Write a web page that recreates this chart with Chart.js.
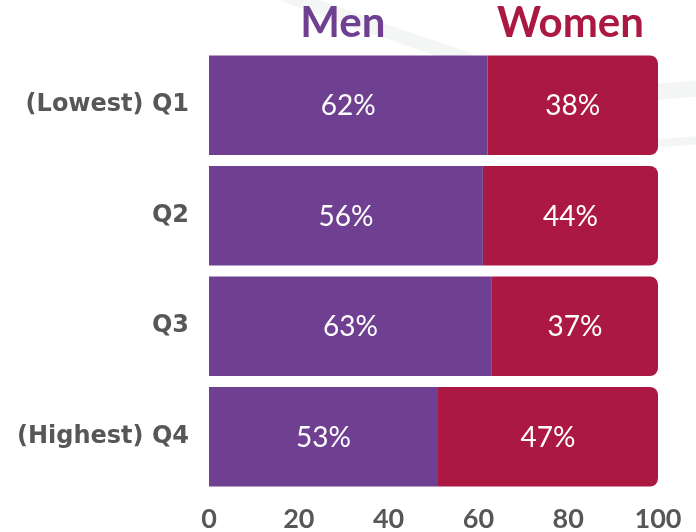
<!DOCTYPE html>
<html>
<head>
<meta charset="utf-8">
<script src="https://cdn.jsdelivr.net/npm/chart.js@4"></script>
<style>
    html, body { margin: 0; padding: 0; background: #ffffff; }
    #wrap { position: relative; width: 696px; height: 532px; }
</style>
</head>
<body>
<div id="wrap"><canvas id="genderChart"></canvas></div>
<script>
// Income quartiles
const categories = ['(Lowest) Q1', 'Q2', 'Q3', '(Highest) Q4'];
// Bar lengths as drawn in the picture
const menBars = [62, 61, 63, 51];
const womenBars = [38, 39, 37, 49];
// Percent labels printed inside the bars
const menLabels = [62, 56, 63, 53];
const womenLabels = [38, 44, 37, 47];
const xTicks = [0, 20, 40, 60, 80, 100];

const PURPLE = '#6f3f91';
const CRIMSON = '#ab1842';
const GREY = '#575757';

// faint decorative swoosh behind the chart
const backdrop = {
    id: 'backdrop',
    beforeDraw(chart) {
        const ctx = chart.ctx;
        ctx.save();
        ctx.strokeStyle = '#f4f5f5';
        ctx.lineWidth = 14;
        ctx.beginPath();
        ctx.moveTo(285, -5);
        ctx.quadraticCurveTo(380, 30, 470, 60);
        ctx.stroke();
        ctx.lineWidth = 16;
        ctx.beginPath();
        ctx.moveTo(655, 92);
        ctx.quadraticCurveTo(680, 90, 700, 88);
        ctx.stroke();
        ctx.lineWidth = 8;
        ctx.beginPath();
        ctx.moveTo(655, 143);
        ctx.quadraticCurveTo(680, 142, 700, 140);
        ctx.stroke();
        ctx.restore();
    }
};

// series headers above the bars + percent labels inside
const labelsPlugin = {
    id: 'labelsPlugin',
    afterDatasetsDraw(chart) {
        const ctx = chart.ctx;
        const x = chart.scales.x;
        ctx.save();
        ctx.textAlign = 'center';
        ctx.textBaseline = 'middle';
        ctx.font = 'bold 42px Lato';
        ctx.fillStyle = PURPLE;
        ctx.fillText('Men', x.getPixelForValue(29.8), 23);
        ctx.fillStyle = CRIMSON;
        ctx.fillText('Women', x.getPixelForValue(80.5), 23);

        ctx.font = '28px Lato';
        ctx.fillStyle = '#ffffff';
        const texts = [menLabels, womenLabels];
        chart.data.datasets.forEach((ds, di) => {
            chart.getDatasetMeta(di).data.forEach((bar, i) => {
                const p = bar.getProps(['x', 'y', 'base'], true);
                ctx.fillText(texts[di][i] + '%', (p.x + p.base) / 2, p.y + 1);
            });
        });
        ctx.restore();
    }
};

const ctx = document.getElementById('genderChart').getContext('2d');
new Chart(ctx, {
    type: 'bar',
    data: {
        labels: categories,
        datasets: [{
            label: 'Men',
            data: menBars,
            backgroundColor: PURPLE,
            borderWidth: 0,
            barPercentage: 0.9,
            categoryPercentage: 1
        },
        {
            label: 'Women',
            data: womenBars,
            backgroundColor: CRIMSON,
            borderWidth: 0,
            borderRadius: 8,
            barPercentage: 0.9,
            categoryPercentage: 1
        }]
    },
    options: {
        indexAxis: 'y',
        responsive: true,
        maintainAspectRatio: false,
        animation: false,
        layout: {
            padding: { top: 50, right: 38, left: 0, bottom: 0 }
        },
        plugins: {
            legend: { display: false },
            tooltip: { enabled: false }
        },
        scales: {
            x: {
                stacked: true,
                min: 0,
                max: 100,
                afterBuildTicks: scale => {
                    scale.ticks = xTicks.map(v => ({ value: v }));
                },
                grid: { display: false, drawTicks: false },
                border: { display: false },
                ticks: {
                    color: GREY,
                    padding: 11,
                    font: { family: 'Lato', weight: 'bold', size: 27 }
                },
                afterFit: scale => { scale.height = 40; }
            },
            y: {
                stacked: true,
                grid: { display: false, drawTicks: false },
                border: { display: false },
                ticks: {
                    color: GREY,
                    padding: 20,
                    font: { family: 'DejaVu Sans', weight: 'bold', size: 24 }
                },
                afterFit: scale => { scale.width = 209; }
            }
        }
    },
    plugins: [backdrop, labelsPlugin]
});
</script>
</body>
</html>
